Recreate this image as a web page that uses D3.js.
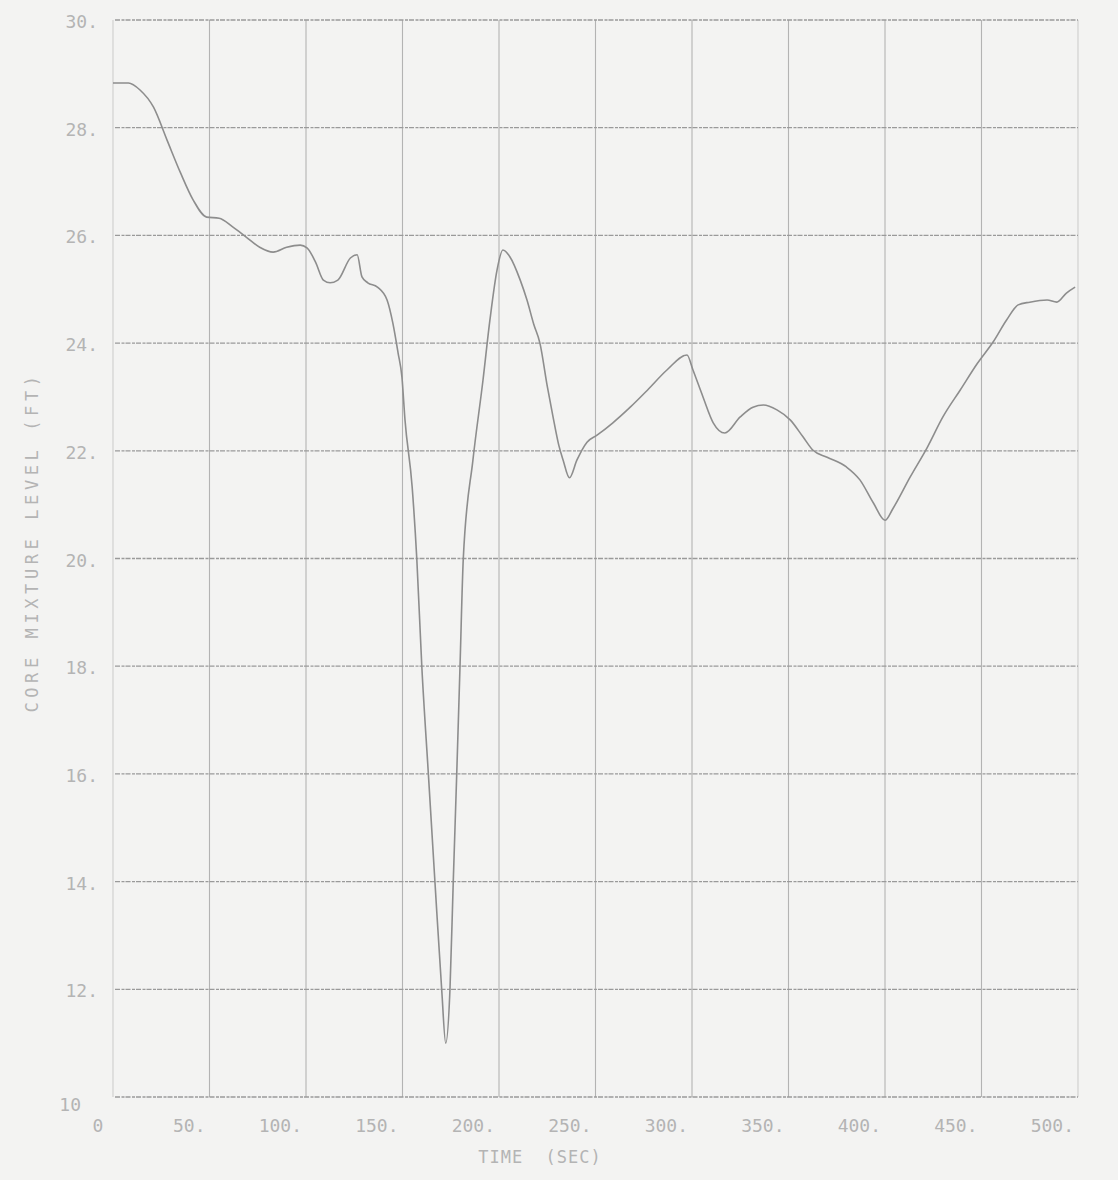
<!DOCTYPE html>
<html>
<head>
<meta charset="utf-8">
<script src="https://cdn.jsdelivr.net/npm/d3@7/dist/d3.min.js"></script>
<style>
  html, body { margin: 0; padding: 0; background: #f3f3f2; }
  svg { display: block; }
  text { font-family: "DejaVu Sans Mono", "Liberation Mono", monospace; fill: #b4b4b4; }
</style>
</head>
<body>
<svg id="chart" width="1118" height="1180"></svg>
<script>
// Core mixture level transient (time in seconds, level in feet)
const timeSec = [
  0, 8, 14, 21, 28, 35, 41.5, 48.5, 55, 62, 69, 76, 83, 90, 97, 100.5,
  105, 109, 112.5, 116.5, 123, 126.5, 129, 132, 137, 142, 145, 147.7, 149.7,
  151.3, 155, 157.4, 160, 163.4, 166.8, 170.3, 172.4, 174.6, 176.3, 178.1,
  179.8, 181.5, 186.5, 191.7, 195.3, 199, 202, 205.7, 211, 214.5, 218,
  221.2, 225, 228, 231, 233.2, 236.5, 240.4, 245.6, 250.8, 259, 268, 277,
  287, 297.4, 300.5, 305.7, 311, 317, 325, 331.6, 337, 344, 351, 357.5,
  362.7, 370, 380, 387, 394, 400, 404, 413, 422, 430, 439, 448, 456, 463,
  469, 475, 484, 489, 494, 498.5
];
const levelFt = [
  28.83, 28.83, 28.70, 28.38, 27.77, 27.16, 26.66, 26.34, 26.32, 26.16, 25.97, 25.78, 25.69, 25.78, 25.82, 25.77,
  25.50, 25.17, 25.12, 25.17, 25.58, 25.64, 25.23, 25.12, 25.04, 24.80, 24.37, 23.82, 23.37,
  22.57, 21.33, 20.00, 18.00, 16.00, 14.00, 12.00, 11.00, 12.00, 14.00, 16.00,
  18.00, 20.00, 21.83, 23.31, 24.43, 25.36, 25.73, 25.60, 25.17, 24.80, 24.35,
  24.00, 23.20, 22.63, 22.10, 21.83, 21.50, 21.83, 22.16, 22.29, 22.52, 22.81, 23.13,
  23.50, 23.78, 23.50, 23.00, 22.52, 22.33, 22.63, 22.81, 22.85, 22.76, 22.57, 22.26,
  22.01, 21.88, 21.70, 21.46, 21.03, 20.71, 20.92, 21.51, 22.07, 22.63, 23.13, 23.63, 24.02, 24.43,
  24.71, 24.76, 24.80, 24.76, 24.93, 25.04
];

const xTicks = [0, 50, 100, 150, 200, 250, 300, 350, 400, 450, 500];
const xTickLabels = ["0", "50.", "100.", "150.", "200.", "250.", "300.", "350.", "400.", "450.", "500."];
const yTicks = [10, 12, 14, 16, 18, 20, 22, 24, 26, 28, 30];
const yTickLabels = ["10", "12.", "14.", "16.", "18.", "20.", "22.", "24.", "26.", "28.", "30."];
const xTitle = "TIME  (SEC)";
const yTitle = "CORE MIXTURE LEVEL (FT)";

const svg = d3.select("#chart");
const W = 1118, H = 1180;
const plot = { left: 113, right: 1078, top: 20, bottom: 1097 };

svg.append("rect").attr("width", W).attr("height", H).attr("fill", "#f3f3f2");

const x = d3.scaleLinear().domain([0, 500]).range([plot.left, plot.right]);
const y = d3.scaleLinear().domain([10, 30]).range([plot.bottom, plot.top]);

// vertical grid
svg.append("g")
  .selectAll("line")
  .data(xTicks)
  .join("line")
  .attr("x1", d => x(d)).attr("x2", d => x(d))
  .attr("y1", y(30)).attr("y2", y(10))
  .attr("stroke", d => (d === 0 || d === 500) ? "#cdcdcd" : "#b3b3b3")
  .attr("stroke-width", 1.1);

// horizontal grid (plotter-style dashed rules)
svg.append("g")
  .selectAll("line")
  .data(yTicks)
  .join("line")
  .attr("x1", x(0) + 2).attr("x2", x(500))
  .attr("y1", d => y(d)).attr("y2", d => y(d))
  .attr("stroke", "#9a9a9a")
  .attr("stroke-width", 1.3)
  .attr("stroke-dasharray", "5,1.5,3,1");

// y tick labels
svg.append("g")
  .selectAll("text")
  .data(yTicks)
  .join("text")
  .attr("x", d => d === 10 ? 81 : 98)
  .attr("y", d => y(d) + (d === 10 ? 14 : 8))
  .attr("text-anchor", "end")
  .attr("font-size", 18)
  .text((d, i) => yTickLabels[i]);

// x tick labels
svg.append("g")
  .selectAll("text")
  .data(xTicks)
  .join("text")
  .attr("x", d => d === 0 ? 98 : x(d) - 4)
  .attr("y", 1132)
  .attr("text-anchor", d => d === 0 ? "middle" : "end")
  .attr("font-size", 18)
  .text((d, i) => xTickLabels[i]);

// axis titles
svg.append("text")
  .attr("x", 540).attr("y", 1163)
  .attr("text-anchor", "middle")
  .attr("font-size", 17)
  .attr("letter-spacing", 1)
  .attr("xml:space", "preserve")
  .style("white-space", "pre")
  .text(xTitle);

svg.append("text")
  .attr("transform", "translate(38,542) rotate(-90)")
  .attr("text-anchor", "middle")
  .attr("font-size", 17)
  .attr("letter-spacing", 4.6)
  .text(yTitle);

// level trace
const series = timeSec.map((t, i) => [t, levelFt[i]]);
const line = d3.line()
  .x(d => x(d[0]))
  .y(d => y(d[1]))
  .curve(d3.curveMonotoneX);

svg.append("path")
  .datum(series)
  .attr("d", line)
  .attr("fill", "none")
  .attr("stroke", "#8d8d8d")
  .attr("stroke-width", 1.6)
  .attr("stroke-linejoin", "round");
</script>
</body>
</html>
